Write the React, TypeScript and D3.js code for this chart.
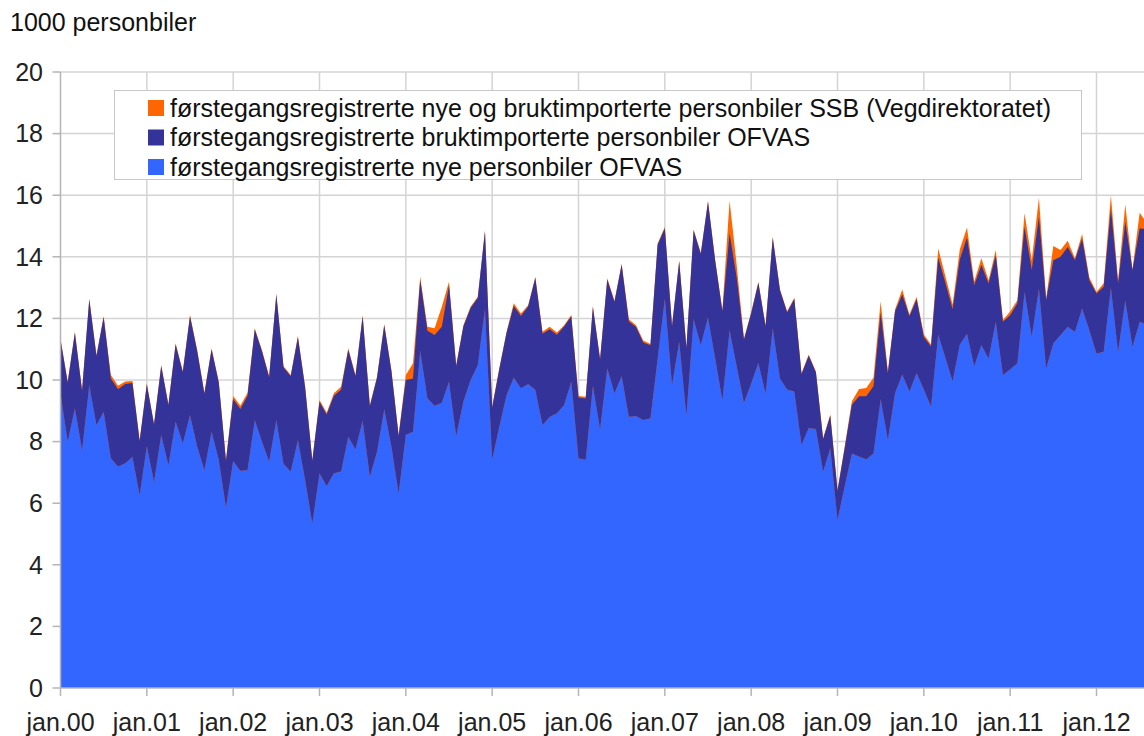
import * as d3 from 'd3';
import * as React from 'react';

// monthly, jan.00 .. jul.12, in 1000 cars
const nye = [
  9.57, 8.0, 9.08, 7.73, 9.84, 8.54, 8.97, 7.46, 7.19, 7.3, 7.51, 6.27,
  7.86, 6.7, 8.22, 7.24, 8.65, 7.95, 8.86, 7.84, 7.08, 8.32, 7.41, 5.87,
  7.37, 7.05, 7.08, 8.7, 8.0, 7.35, 8.7, 7.28, 7.03, 8.05, 6.76, 5.35,
  6.97, 6.56, 6.97, 7.03, 8.16, 7.75, 8.68, 6.86, 7.68, 9.05, 7.84, 6.32,
  8.22, 8.32, 10.95, 9.41, 9.16, 9.26, 9.95, 8.18, 9.3, 10.0, 10.49, 12.32,
  7.43, 8.49, 9.51, 10.08, 9.73, 9.87, 9.68, 8.54, 8.81, 8.92, 9.19, 9.95,
  7.46, 7.41, 9.81, 8.4, 10.38, 9.57, 10.13, 8.81, 8.83, 8.7, 8.76, 10.7,
  12.65, 9.84, 11.24, 8.86, 11.97, 11.14, 12.03, 10.7, 9.35, 11.62, 10.43, 9.26,
  9.89, 10.56, 9.57, 11.68, 10.05, 9.69, 9.63, 7.9, 8.44, 8.41, 7.03, 7.79,
  5.46, 6.55, 7.61, 7.52, 7.43, 7.61, 9.38, 8.06, 9.58, 10.18, 9.63, 10.23,
  9.69, 9.15, 11.48, 10.72, 9.96, 11.15, 11.5, 10.45, 11.14, 10.7, 11.89, 10.16,
  10.35, 10.54, 12.86, 11.41, 12.97, 10.38, 11.19, 11.46, 11.73, 11.57, 12.32, 11.62,
  10.86, 10.92, 13.0, 10.92, 12.59, 11.08, 11.89, 11.8,
];

const brukt = [
  1.74, 1.91, 2.45, 1.91, 2.77, 2.23, 3.07, 2.59, 2.51, 2.57, 2.39, 1.74,
  1.99, 1.85, 2.23, 1.94, 2.5, 2.3, 3.21, 3.09, 2.47, 2.67, 2.5, 1.5,
  2.01, 2.01, 2.41, 2.94, 2.93, 2.74, 4.07, 3.13, 3.09, 3.34, 3.0, 2.02,
  2.32, 2.32, 2.52, 2.65, 2.82, 2.37, 3.39, 2.29, 2.39, 2.73, 2.44, 1.86,
  1.78, 1.73, 2.3, 2.19, 2.3, 2.47, 3.13, 2.27, 2.44, 2.34, 2.17, 2.5,
  1.67, 1.87, 2.02, 2.32, 2.35, 2.52, 3.63, 2.96, 2.84, 2.55, 2.55, 2.12,
  1.97, 1.99, 2.55, 2.26, 2.88, 2.96, 3.61, 3.09, 2.89, 2.52, 2.37, 3.69,
  2.28, 1.9, 2.61, 2.18, 2.88, 2.95, 3.75, 3.16, 2.88, 3.14, 2.87, 2.05,
  2.27, 2.59, 2.17, 2.93, 2.86, 2.5, 3.0, 2.29, 2.35, 1.83, 1.05, 1.05,
  0.94, 1.23, 1.59, 1.95, 2.04, 2.19, 2.8, 2.16, 2.65, 2.6, 2.44, 2.39,
  1.71, 1.94, 2.49, 2.43, 2.34, 2.76, 3.13, 2.63, 2.59, 2.43, 2.16, 1.73,
  1.75, 1.95, 2.11, 2.16, 2.33, 2.21, 2.7, 2.54, 2.59, 2.32, 2.27, 1.62,
  1.95, 2.11, 2.57, 2.21, 2.55, 2.49, 3.03, 3.1,
];

// SSB total (new + used imports)
const ssb = [
  11.35, 9.95, 11.57, 9.68, 12.65, 10.81, 12.08, 10.16, 9.81, 9.95, 9.97, 8.05,
  9.89, 8.59, 10.49, 9.22, 11.19, 10.29, 12.11, 10.97, 9.59, 11.03, 9.95, 7.41,
  9.48, 9.16, 9.59, 11.68, 10.97, 10.13, 12.81, 10.45, 10.16, 11.43, 9.8, 7.41,
  9.35, 8.94, 9.57, 9.78, 11.03, 10.16, 12.11, 9.19, 10.11, 11.82, 10.32, 8.22,
  10.16, 10.54, 13.35, 11.73, 11.68, 12.38, 13.19, 10.49, 11.78, 12.38, 12.7, 14.86,
  9.14, 10.4, 11.57, 12.49, 12.16, 12.43, 13.35, 11.57, 11.73, 11.54, 11.78, 12.11,
  9.48, 9.46, 12.4, 10.7, 13.3, 12.57, 13.78, 11.97, 11.78, 11.28, 11.17, 14.43,
  14.97, 11.78, 13.89, 11.08, 14.89, 14.13, 15.82, 13.9, 12.27, 15.82, 13.7, 11.35,
  12.2, 13.19, 11.78, 14.65, 12.95, 12.23, 12.67, 10.23, 10.83, 10.28, 8.12, 8.88,
  6.44, 7.85, 9.31, 9.71, 9.74, 10.07, 12.56, 10.28, 12.29, 12.94, 12.13, 12.7,
  11.48, 11.15, 14.27, 13.37, 12.45, 14.24, 14.95, 13.2, 13.95, 13.24, 14.22, 11.95,
  12.22, 12.59, 15.41, 13.89, 15.92, 12.65, 14.35, 14.22, 14.52, 13.95, 14.74, 13.33,
  12.86, 13.14, 16.0, 13.24, 15.7, 13.59, 15.43, 15.1,
];

const yearLabels = ['jan.00', 'jan.01', 'jan.02', 'jan.03', 'jan.04', 'jan.05', 'jan.06',
  'jan.07', 'jan.08', 'jan.09', 'jan.10', 'jan.11', 'jan.12'];
const yTicks = [0, 2, 4, 6, 8, 10, 12, 14, 16, 18, 20];

const legendItems = [
  { label: 'førstegangsregistrerte nye og bruktimporterte personbiler SSB (Vegdirektoratet)', color: '#ff6600' },
  { label: 'førstegangsregistrerte bruktimporterte personbiler OFVAS', color: '#333399' },
  { label: 'førstegangsregistrerte nye personbiler OFVAS', color: '#3366ff' },
];

const W = 1144;
const H = 736;
const font = '"Liberation Sans", Arial, sans-serif';
const fs = 25;

export default function App() {
  const x = d3.scaleLinear().domain([0, 144]).range([60.5, 1096.5]);
  const y = d3.scaleLinear().domain([0, 20]).range([688, 72]);

  const rows = nye.map((n, i) => ({ i, nye: n, brukt: brukt[i], ssb: ssb[i] }));
  const stack = d3.stack<any>().keys(['nye', 'brukt'])(rows);

  const ssbArea = d3.area<any>()
    .x((d) => x(d.i))
    .y0(y(0))
    .y1((d) => y(d.ssb));

  const stackArea = d3.area<any>()
    .x((d, i) => x(i))
    .y0((d) => y(d[0]))
    .y1((d) => y(d[1]));

  const stackColors = ['#3366ff', '#333399'];

  return (
    <div style={{ position: 'absolute', left: 0, top: 0 }}>
      <svg width={W} height={H} style={{ display: 'block', fontFamily: font }}>
        <rect width={W} height={H} fill="#fff" />
        <text x={10} y={31} fontSize={fs} fill="#111">1000 personbiler</text>

        {/* gridlines */}
        {yTicks.filter((t) => t > 0).map((t) => (
          <line key={'gy' + t} x1={x(0)} x2={W} y1={y(t)} y2={y(t)} stroke="#d4d4d4" strokeWidth={1.5} />
        ))}
        {yearLabels.map((l, k) => k > 0 && (
          <line key={'gx' + l} x1={x(k * 12)} x2={x(k * 12)} y1={y(20)} y2={y(0)} stroke="#d4d4d4" strokeWidth={1.5} />
        ))}

        <path d={ssbArea(rows) || ''} fill="#ff6600" />
        {stack.map((s, k) => (
          <path key={s.key} d={stackArea(s as any) || ''} fill={stackColors[k]} />
        ))}

        {/* axes */}
        <line x1={x(0)} x2={x(0)} y1={y(20)} y2={y(0)} stroke="#b4b4b4" strokeWidth={1.5} />
        <line x1={x(0)} x2={W} y1={y(0)} y2={y(0)} stroke="#b4b4b4" strokeWidth={1.5} />
        {yTicks.map((t) => (
          <g key={'ty' + t}>
            <line x1={x(0) - 8} x2={x(0)} y1={y(t)} y2={y(t)} stroke="#b4b4b4" strokeWidth={1.5} />
            <text x={43} y={y(t)} dy="0.35em" textAnchor="end" fontSize={fs} fill="#222">{t}</text>
          </g>
        ))}
        {yearLabels.map((l, k) => (
          <g key={'tx' + l}>
            <line x1={x(k * 12)} x2={x(k * 12)} y1={y(0)} y2={y(0) + 8} stroke="#b4b4b4" strokeWidth={1.5} />
            <text x={x(k * 12)} y={731} textAnchor="middle" fontSize={fs} fill="#222">{l}</text>
          </g>
        ))}

        {/* legend */}
        <rect x={114.5} y={90.5} width={967} height={89} fill="#fff" stroke="#c8c8c8" strokeWidth={1} />
        {legendItems.map((it, k) => (
          <g key={it.label} transform={`translate(148, ${100 + k * 29.5})`}>
            <rect width={16} height={16} fill={it.color} />
            <text x={22} y={16.5} fontSize={fs} fill="#111">{it.label}</text>
          </g>
        ))}
      </svg>
    </div>
  );
}
